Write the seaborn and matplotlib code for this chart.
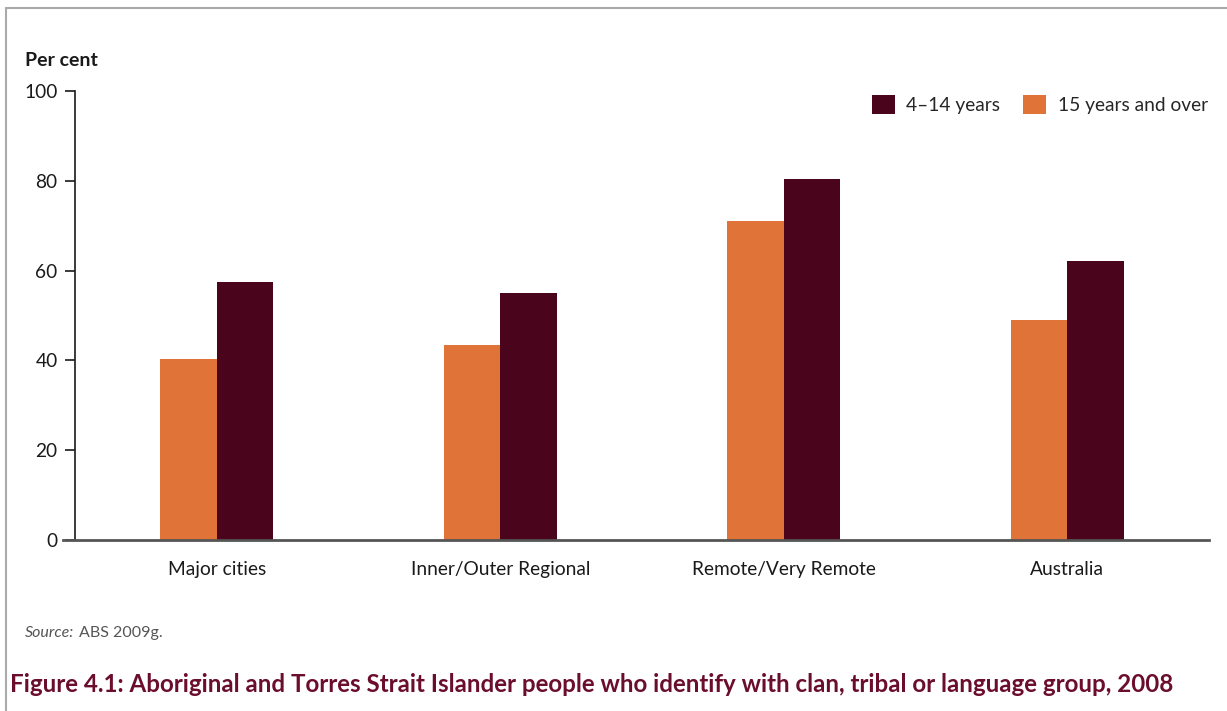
import matplotlib
matplotlib.use("Agg")
import matplotlib.pyplot as plt
import seaborn as sns
import pandas as pd
from matplotlib.lines import Line2D

categories = ["Major cities", "Inner/Outer Regional", "Remote/Very Remote", "Australia"]
older = [40.3, 43.4, 71.0, 49.0]      # 15 years and over
younger = [57.5, 55.0, 80.4, 62.1]    # 4–14 years
series_names = ["15 years and over", "4\u201314 years"]
yticks = [0, 20, 40, 60, 80, 100]

sns.set_theme(style="white")
plt.rcParams['font.family'] = ['Lato', 'DejaVu Sans']

df = pd.DataFrame({
    "Region": categories * 2,
    "Value": older + younger,
    "Group": [series_names[0]] * 4 + [series_names[1]] * 4,
})

colors = {series_names[0]: "#E07438", series_names[1]: "#4A041B"}

fig = plt.figure(figsize=(12.27, 7.11), dpi=100)
ax = fig.add_axes([75 / 1227, 1 - 540 / 711, (1209 - 75) / 1227, (540 - 91) / 711])

sns.barplot(data=df, x="Region", y="Value", hue="Group", hue_order=series_names,
            palette=colors, width=0.4, saturation=1, ax=ax, legend=True,
            linewidth=0, edgecolor="none")

fs = 13.8
ax.set_xlim(-0.5, 3.5)
ax.set_ylim(0, 100)
ax.set_yticks(yticks)
ax.set_yticklabels([str(t) for t in yticks], fontsize=fs, color="#1a1a1a")
ax.tick_params(axis="y", length=7.5, width=1.2, color="#1a1a1a", pad=5, left=True)
ax.tick_params(axis="x", length=0, pad=15, labelsize=fs, labelcolor="#1a1a1a")
ax.set_xlabel("")
ax.set_ylabel("")
for s in ["top", "right"]:
    ax.spines[s].set_visible(False)
ax.spines["left"].set_color("#1a1a1a")
ax.spines["left"].set_linewidth(1.2)
ax.spines["bottom"].set_color("#555555")
ax.spines["bottom"].set_linewidth(2)
ax.spines["bottom"].set_bounds(-0.542, 3.5)

handles, labels = ax.get_legend_handles_labels()
order = [labels.index(series_names[1]), labels.index(series_names[0])]
leg = ax.legend([handles[i] for i in order], [labels[i] for i in order],
                loc="upper right", bbox_to_anchor=(1.014, 1.03), ncol=2, frameon=False,
                fontsize=fs, handlelength=1.2, handleheight=1.2, handletextpad=0.6,
                columnspacing=1.2)

fig.text(25 / 1227, 1 - 61 / 711, "Per cent", fontsize=14, fontweight="bold",
         color="#1a1a1a", va="center", ha="left")

fig.text(25 / 1227, 1 - 633 / 711, "Source:", fontsize=11.5, style="italic",
         color="#555555", va="center", ha="left")
fig.text(79 / 1227, 1 - 633 / 711, "ABS 2009g.", fontsize=11.5,
         color="#555555", va="center", ha="left")
fig.text(10 / 1227, 1 - 684 / 711,
         "Figure 4.1: Aboriginal and Torres Strait Islander people who identify with clan, tribal or language group, 2008",
         fontsize=17.4, fontweight="bold", color="#6B0E2E", va="center", ha="left")

# frame lines (top and left)
fig.add_artist(Line2D([6 / 1227, 1.0], [1 - 8 / 711, 1 - 8 / 711], color="#aaaaaa", lw=1.5))
fig.add_artist(Line2D([6 / 1227, 6 / 1227], [0.0, 1 - 8 / 711], color="#aaaaaa", lw=1.5))

fig.savefig("out.png", dpi=100)
